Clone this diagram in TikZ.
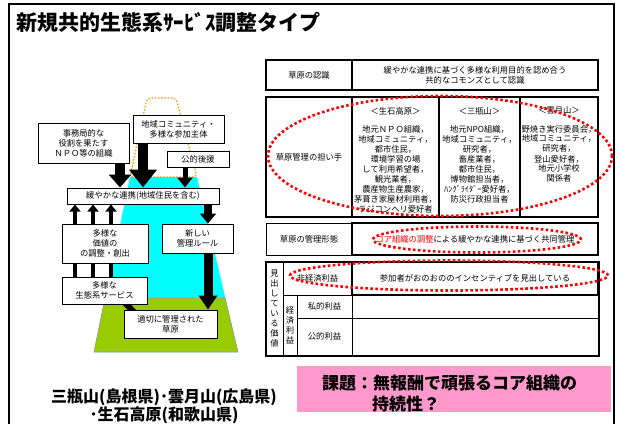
\documentclass[tikz,border=0pt]{standalone}
\usepackage{fontspec}
\setmainfont{Noto Sans CJK JP}
\usetikzlibrary{arrows.meta}
\definecolor{cyanfill}{HTML}{00FFFF}
\definecolor{greenfill}{HTML}{99CC00}
\definecolor{orangedot}{HTML}{FF9900}
\definecolor{pinkfill}{HTML}{FF99CC}
\definecolor{reddot}{HTML}{FF0000}
\newcommand\cellfont{\fontsize{8.3}{10}\selectfont}
\tikzset{
  box/.style={draw, line width=1pt, fill=white, align=center, inner sep=0pt, font=\cellfont},
  thincell/.style={draw, line width=1pt, align=center, inner sep=0pt, font=\cellfont},
  thickcell/.style={draw, line width=2.5pt, align=center, inner sep=0pt, font=\cellfont},
  txt/.style={align=center, inner sep=0pt, font=\cellfont},
  reddots/.style={draw=reddot, line width=2.6pt, dash pattern=on 2.6pt off 2.4pt}
}
\begin{document}
\begin{tikzpicture}[x=1pt,y=-1pt]
\useasboundingbox (0,0) rectangle (621,423);
% frame
\draw[line width=1.5pt] (9,440) -- (9,4) -- (614,4) -- (614,440);
% title
\node[anchor=west, inner sep=0pt, font=\fontsize{21}{24}\selectfont\bfseries] (title) at (16,22) {新規共的生態系ｻｰﾋﾞｽ調整タイプ};

% ---------- left diagram ----------
\fill[cyanfill] (130,177) -- (197,177) -- (238,352) -- (94,352) -- cycle;
\draw[fill=greenfill, draw=black!40, line width=0.6pt] (105,298) -- (225,298) -- (238,352) -- (94,352) -- cycle;
\draw[orangedot, line width=1.2pt, dash pattern=on 1.6pt off 1.6pt, rounded corners=4pt]
  (130,177) -- (147,98) -- (176,98) -- (197,177) -- cycle;

\coordinate (diagA) at (122,300);
\coordinate (diagB) at (135,313);
\draw[line width=6pt] (diagA) -- (diagB);

\node[box, minimum width=91, minimum height=40] (npo) at (83.5,143) {事務局的な\\役割を果たす\\ＮＰＯ等の組織};
\node[box, minimum width=91, minimum height=28] (ck) at (178.5,129) {地域コミュニティ・\\多様な参加主体};
\node[box, minimum width=62, minimum height=16] (kou) at (198,159) {公的後援};
\node[box, minimum width=152, minimum height=16] (renk) at (143,196) {緩やかな連携(地域住民を含む)};
\node[box, minimum width=86, minimum height=39] (val) at (105,243.5) {多様な\\価値の\\の調整・創出};
\node[box, minimum width=85, minimum height=27] (eco) at (104.5,290.5) {多様な\\生態系サービス};
\node[box, minimum width=71, minimum height=29] (newr) at (197.5,238.5) {新しい\\管理ルール};
\node[box, minimum width=93, minimum height=28] (tek) at (170.5,324) {適切に管理された\\草原};

% arrows
\coordinate (a1) at (120,0);
\coordinate (a2) at (143,0);
\coordinate (a3) at (185,0);
\coordinate (a4) at (208,0);
\coordinate (u1) at (75,0);
\coordinate (u2) at (93,0);
\coordinate (u3) at (111,0);
\draw[line width=10pt, -{Triangle[width=22pt,length=13pt]}] (a1 |- npo.south) -- (a1 |- renk.north);
\draw[line width=10pt, -{Triangle[width=27pt,length=18pt]}] (a2 |- ck.south) -- (a2 |- renk.north);
\draw[line width=5pt, -{Triangle[width=15pt,length=10pt]}] (a3 |- kou.south) -- (a3 |- renk.north);
\draw[line width=8.5pt, -{Triangle[width=16pt,length=10pt]}] (a4 |- renk.south) -- (a4 |- newr.north);
\draw[line width=9pt, -{Triangle[width=18pt,length=14pt]}] (a4 |- newr.south) -- (a4 |- tek.north);
\foreach \u in {u1,u2,u3}{
  \draw[line width=4pt, -{Triangle[width=11pt,length=7pt]}] (\u |- val.north) -- (\u |- renk.south);
  \draw[line width=4pt] (\u |- eco.north) -- (\u |- val.south);
}

% ---------- table ----------
% row 1
\node[draw, line width=1.5pt, minimum width=86, minimum height=30, inner sep=0pt, font=\cellfont] (r1l) at (309,75) {草原の認識};
\node[thickcell, minimum width=246, minimum height=30] (r1r) at (475,75) {緩やかな連携に基づく多様な利用目的を認め合う\\共的なコモンズとして認識};
% row 2
\node[draw, line width=1.5pt, minimum width=86, minimum height=120, inner sep=0pt, font=\cellfont] (r2l) at (309,157) {草原管理の担い手};
\node[thickcell, minimum width=87, minimum height=120] (c1) at (395.5,157) {};
\node[thickcell, minimum width=81, minimum height=120] (c2) at (479.5,157) {};
\node[thickcell, minimum width=78, minimum height=120] (c3) at (559,157) {};
\node[txt, anchor=north] (c1t) at (395.5,107) {＜生石高原＞\\[8pt]地元ＮＰＯ組織，\\地域コミュニティ，\\都市住民，\\環境学習の場\\して利用希望者，\\観光業者，\\農産物生産農家，\\茅葺き家屋材利用者，\\ラジコンヘリ愛好者};
\node[txt, anchor=north] (c2t) at (479.5,107) {＜三瓶山＞\\[8pt]地元NPO組織，\\地域コミュニティ，\\研究者，\\畜産業者，\\都市住民，\\博物館担当者，\\ﾊﾝｸﾞﾗｲﾀﾞｰ愛好者，\\防災行政担当者};
\node[txt, anchor=north] (c3t) at (559,107) {＜雲月山＞\\[8pt]野焼き実行委員会，\\地域コミュニティ，\\研究者，\\登山愛好者，\\地元小学校\\関係者};
% row 3
\node[thincell, minimum width=86, minimum height=32] (r3l) at (309,239) {草原の管理形態};
\node[thickcell, minimum width=246, minimum height=32] (r3r) at (475,239) {{\color{reddot}コア組織の調整}による緩やかな連携に基づく共同管理};
% row 4
\node[thincell, minimum width=17, minimum height=93] (v1) at (274.5,308.5) {見\\出\\し\\て\\い\\る\\価\\値};
\node[thincell, minimum width=69, minimum height=33] (ne) at (317.5,278.5) {非経済利益};
\node[thincell, minimum width=14, minimum height=60] (v2) at (290,325) {経\\済\\利\\益};
\node[thincell, minimum width=55, minimum height=23] (pr) at (324.5,306.5) {私的利益};
\node[thincell, minimum width=55, minimum height=37] (pu) at (324.5,336.5) {公的利益};
\node[thickcell, minimum width=246, minimum height=33] (ner) at (475,278.5) {参加者がおのおののインセンティブを見出している};
\node[thincell, minimum width=246, minimum height=23] (prr) at (475,306.5) {};
\node[thincell, minimum width=246, minimum height=37] (pur) at (475,336.5) {};
\draw[line width=2pt] (v1.north west) rectangle (pur.south east);

% red dotted ellipses
\draw[reddots] (440,156) ellipse [x radius=172pt, y radius=60pt];
\draw[reddots] (477,239.5) ellipse [x radius=104pt, y radius=13pt];
\draw[reddots] (449,275.5) ellipse [x radius=159pt, y radius=15pt];

% bottom
\node[fill=pinkfill, minimum width=314, minimum height=46, inner sep=0pt] (pink) at (454,389) {};
\node[anchor=west, inner sep=0pt, font=\fontsize{17}{21}\selectfont\bfseries] (kadai1) at (322,383) {課題：無報酬で頑張るコア組織の};
\node[anchor=west, inner sep=0pt, font=\fontsize{17}{21}\selectfont\bfseries] (kadai2) at (372,404) {持続性？};
\node[align=center, inner sep=0pt, font=\fontsize{16}{16}\selectfont\bfseries] (sites) at (164,406) {三瓶山(島根県)･雲月山(広島県)\\･生石高原(和歌山県)};
\end{tikzpicture}
\end{document}
